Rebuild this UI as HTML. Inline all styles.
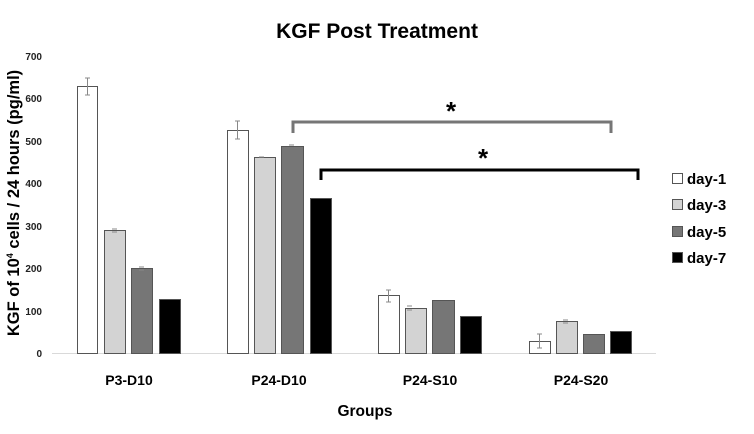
<!DOCTYPE html>
<html><head><style>body{margin:0;background:#fff}svg{display:block}text{font-family:"Liberation Sans",Arial,sans-serif;font-weight:bold}</style></head>
<body>
<svg width="754" height="434" viewBox="0 0 754 434">
<text x="377" y="38" font-size="21" text-anchor="middle">KGF Post Treatment</text>
<g font-size="10" text-anchor="end" fill="#222">
<text x="42" y="357">0</text><text x="42" y="315">100</text><text x="42" y="272">200</text><text x="42" y="230">300</text><text x="42" y="187">400</text><text x="42" y="145">500</text><text x="42" y="102">600</text><text x="42" y="60">700</text>
</g>
<text transform="translate(19,203) rotate(-90)" font-size="16.5" text-anchor="middle">KGF of 10<tspan font-size="9" dy="-6">4</tspan><tspan dy="6"> cells / 24 hours (pg/ml)</tspan></text>
<line x1="52" y1="353.5" x2="656" y2="353.5" stroke="#d9d9d9" stroke-width="1"/>
<g stroke="#555" stroke-width="1">
<rect x="77.5" y="86.5" width="20" height="267" fill="#fff"/>
<rect x="104.5" y="230.5" width="21" height="123" fill="#d3d3d3"/>
<rect x="131.5" y="268.5" width="21" height="85" fill="#767676"/>
<rect x="159.5" y="299.5" width="21" height="54" fill="#000"/>
<rect x="227.5" y="130.5" width="21" height="223" fill="#fff"/>
<rect x="254.5" y="157.5" width="21" height="196" fill="#d3d3d3"/>
<rect x="281.5" y="146.5" width="22" height="207" fill="#767676"/>
<rect x="310.5" y="198.5" width="21" height="155" fill="#000"/>
<rect x="378.5" y="295.5" width="21" height="58" fill="#fff"/>
<rect x="405.5" y="308.5" width="21" height="45" fill="#d3d3d3"/>
<rect x="432.5" y="300.5" width="22" height="53" fill="#767676"/>
<rect x="460.5" y="316.5" width="21" height="37" fill="#000"/>
<rect x="529.5" y="341.5" width="21" height="12" fill="#fff"/>
<rect x="556.5" y="321.5" width="21" height="32" fill="#d3d3d3"/>
<rect x="583.5" y="334.5" width="21" height="19" fill="#767676"/>
<rect x="610.5" y="331.5" width="21" height="22" fill="#000"/>
</g>
<g stroke="#888" stroke-width="1" fill="none">
<path d="M87.5 78v17M85 78h5M85 95h5"/>
<path d="M237.5 121v18M235 121h5M235 139h5"/>
<path d="M388.5 290v12M386 290h5M386 302h5"/>
<path d="M407 306h5M407 310h5"/>
<path d="M539.5 334v14M537 334h5M537 348h5"/>
<path d="M563 320h5M563 323h5"/>
<path d="M112 229h5M112 232h5M139 267h5M139 270h5M259 157h5M289 145h5"/>
</g>
<path d="M293 133V122H611V133" stroke="#767676" stroke-width="3" fill="none"/>
<path d="M321 180V170H638V180" stroke="#000" stroke-width="3" fill="none"/>
<text x="451" y="120" font-size="26" font-weight="normal" text-anchor="middle">*</text>
<text x="483" y="167" font-size="26" font-weight="normal" text-anchor="middle">*</text>
<g stroke="#555" stroke-width="1">
<rect x="672.5" y="173.5" width="10" height="10" fill="#fff"/>
<rect x="672.5" y="199.5" width="10" height="10" fill="#d3d3d3"/>
<rect x="672.5" y="226.5" width="10" height="10" fill="#767676"/>
<rect x="672.5" y="252.5" width="10" height="10" fill="#000"/>
</g>
<g font-size="15">
<text x="687" y="184">day-1</text><text x="687" y="210">day-3</text><text x="687" y="237">day-5</text><text x="687" y="263">day-7</text>
</g>
<g font-size="14" text-anchor="middle">
<text x="129" y="385">P3-D10</text><text x="279" y="385">P24-D10</text><text x="430" y="385">P24-S10</text><text x="581" y="385">P24-S20</text>
</g>
<text x="365" y="416" font-size="15.5" text-anchor="middle">Groups</text>
</svg>
</body></html>
